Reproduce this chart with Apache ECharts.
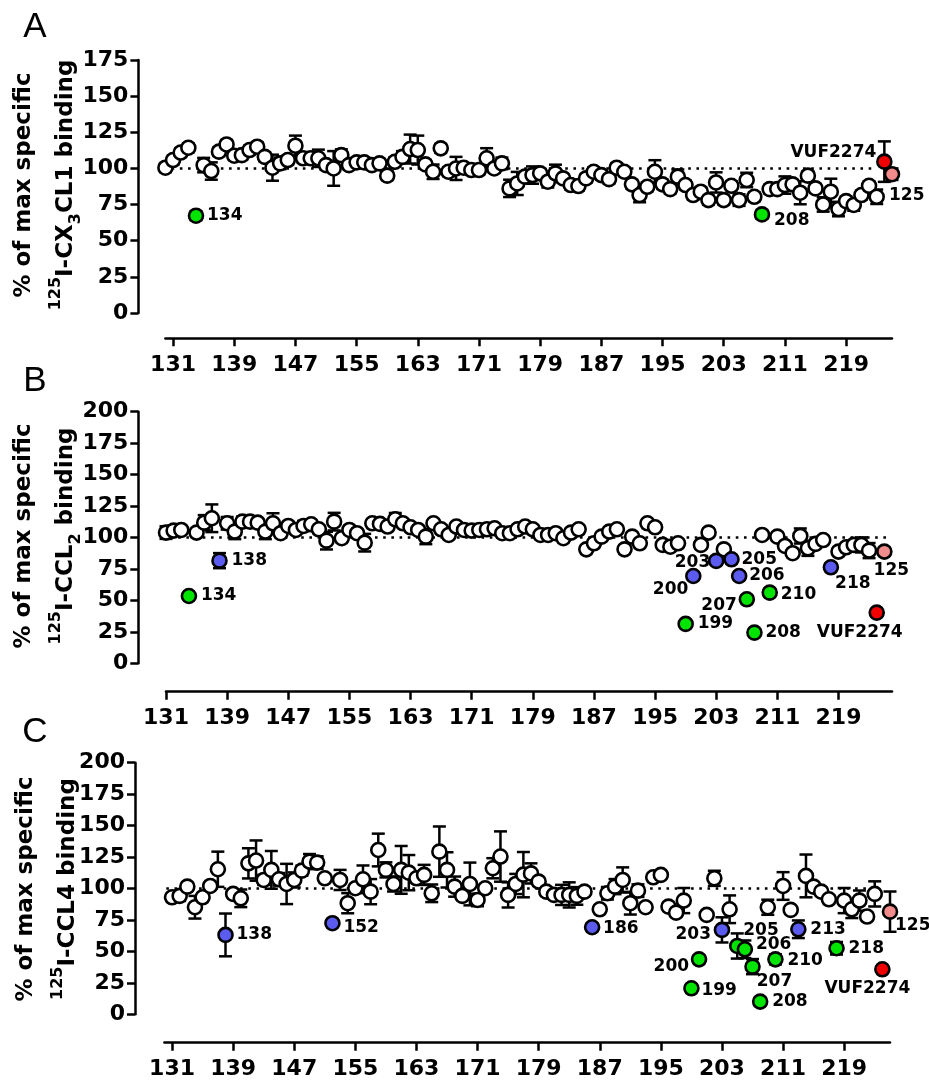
<!DOCTYPE html>
<html lang="en">
<head>
  <meta charset="UTF-8">
  <title>Alanine scan binding</title>
  <script src="https://cdn.jsdelivr.net/npm/echarts@6.0.0/dist/echarts.min.js"></script>
  <style>
    html, body { margin: 0; padding: 0; background: #fff; }
    #chart { width: 929px; height: 1080px; }
  </style>
</head>
<body>
  <div id="chart"></div>
  <script>
    // ---- data ----
    const xTickLabels = [131, 139, 147, 155, 163, 171, 179, 187, 195, 203, 211, 219]
    const yAxisMax = [175, 200, 200]
    const panelLetters = ['A', 'B', 'C']
    const titleLine1 = '% of max specific'
    const titleLine2 = [
      '{sup|125}{b|I-CX}{sub|3}{b|CL1 binding}',
      '{sup|125}{b|I-CCL}{sub|2}{b| binding}',
      '{sup|125}{b|I-CCL4 binding}'
    ]
    const ctrlNames = ['VUF2274', '125']
    const ctrlResidues = [224, 225]

    // A: 125I-CX3CL1
    const residuesA = [130, 131, 132, 133, 134, 135, 136, 137, 138, 139,
      140, 141, 142, 143, 144, 145, 146, 147, 148, 149,
      150, 151, 152, 153, 154, 155, 156, 157, 158, 159,
      160, 161, 162, 163, 164, 165, 166, 167, 168, 169,
      170, 171, 172, 173, 174, 175, 176, 177, 178, 179,
      180, 181, 182, 183, 184, 185, 186, 187, 188, 189,
      190, 191, 192, 193, 194, 195, 196, 197, 198, 199,
      200, 201, 202, 203, 204, 205, 206, 207, 208, 209,
      210, 211, 212, 213, 214, 215, 216, 217, 218, 219,
      220, 221, 222, 223]
    const valuesA = [100.5, 105.8, 111, 114.3, 67.3, 102.3, 98.2, 111.6, 116.6, 108.8,
      109.2, 112.7, 115, 108, 100.5, 103.5, 105.8, 115.7, 107, 107,
      107, 102.3, 100, 109.2, 102.3, 104.2, 104.2, 102.3, 103.5, 95,
      104.6, 108, 113.4, 112.7, 102.8, 97.7, 113.9, 97.7, 100, 100.5,
      98.9, 98.9, 107, 100, 103.5, 86.2, 89.6, 94.3, 95.4, 96.6,
      90.8, 96.6, 93.1, 88.5, 87.8, 93.1, 97.7, 95.4, 92.6, 100.5,
      97.7, 89, 81.6, 87.3, 97.7, 89, 85.7, 94.3, 88.5, 81.6,
      83.9, 78.1, 90.3, 78.1, 88, 78.1, 92, 80.4, 68.2, 85.7,
      85.7, 88.5, 89, 83.2, 95, 86.2, 75.1, 83.9, 71.9, 77.4,
      74.7, 81.6, 88, 80.4]
    const errorsA = [3, 3, 3, 3, 3, 5, 6, 3, 3, 3,
      3, 3, 3, 3, 9, 4, 3, 7, 3, 3,
      6, 3, 12, 4, 3, 3, 3, 3, 3, 3,
      3, 4, 10, 10, 3, 5, 3, 3, 8, 3,
      3, 3, 7, 3, 4, 6, 8, 3, 6, 3,
      4, 6, 3, 3, 3, 3, 3, 3, 3, 3,
      3, 3, 5, 3, 8, 3, 3, 5, 3, 3,
      3, 3, 7, 3, 3, 4, 5, 3, 3, 3,
      3, 6, 3, 8, 3, 3, 5, 9, 5, 3,
      4, 3, 3, 5]
    const greenA = [134, 208]
    const blueA = []
    const ctrlValuesA = [104.7, 96]
    const ctrlErrorsA = [14, 4]

    // B: 125I-CCL2
    const residuesB = [131, 132, 133, 134, 135, 136, 137, 138, 139,
      140, 141, 142, 143, 144, 145, 146, 147, 148, 149,
      150, 151, 152, 153, 154, 155, 156, 157, 158, 159,
      160, 161, 162, 163, 164, 165, 166, 167, 168, 169,
      170, 171, 172, 173, 174, 175, 176, 177, 178, 179,
      180, 181, 182, 183, 184, 185, 186, 187, 188, 189,
      190, 191, 192, 193, 194, 195, 196, 197, 198, 199,
      200, 201, 202, 203, 204, 205, 206, 207, 208, 209,
      210, 211, 212, 213, 214, 215, 216, 217, 218, 219,
      220, 221, 222, 223]
    const valuesB = [103.9, 105.5, 106, 53.5, 103.9, 111.8, 115.3, 81.6, 111.3,
      104.7, 112.6, 112.6, 111.8, 104.7, 111.3, 103.4, 109.2, 106, 109.2,
      110.5, 106.5, 97.5, 112.6, 99.4, 106, 103.4, 95.9, 111.3, 110.8,
      108.7, 114.5, 111.3, 108.1, 106, 100.7, 111.3, 106.5, 102, 108.7,
      106, 105.5, 106, 106.5, 107.3, 103.4, 103.4, 106.5, 108.7, 106.5,
      102, 102, 103.4, 99.4, 103.9, 106.5, 90.6, 95.4, 100.7, 104.7,
      106.5, 90.6, 100.7, 95.4, 111.3, 108.1, 94.1, 92.7, 95.4, 31.3,
      69.4, 94.1, 103.9, 81.4, 90.6, 82.7, 69.4, 50.9, 24.4, 102,
      56.2, 100.7, 93.3, 87.5, 101.2, 91.4, 94.9, 98, 76.3, 88.8,
      92.2, 94.1, 94.1, 89.6]
    const errorsB = [5, 4, 3, 2, 3, 6, 11, 6, 5,
      6, 4, 3, 3, 6, 8, 3, 3, 3, 4,
      3, 3, 7, 7, 3, 3, 3, 7, 3, 3,
      3, 5, 3, 3, 3, 6, 3, 3, 3, 3,
      3, 3, 3, 3, 3, 3, 3, 3, 3, 3,
      3, 3, 3, 3, 3, 3, 3, 3, 3, 3,
      3, 3, 3, 3, 3, 3, 3, 3, 3, 2,
      3, 3, 3, 3, 3, 3, 3, 3, 2, 3,
      3, 3, 3, 3, 6, 6, 3, 3, 3, 3,
      3, 3, 6, 6]
    const greenB = [134, 199, 207, 208, 210]
    const blueB = [138, 200, 203, 205, 206, 218]
    const ctrlValuesB = [40.3, 88.8]
    const ctrlErrorsB = [2, 3]

    // C: 125I-CCL4
    const residuesC = [131, 132, 133, 134, 135, 136, 137, 138, 139,
      140, 141, 142, 143, 144, 145, 146, 147, 148, 149,
      150, 151, 152, 153, 154, 155, 156, 157, 158, 159,
      160, 161, 162, 163, 164, 165, 166, 167, 168, 169,
      170, 171, 172, 173, 174, 175, 176, 177, 178, 179,
      180, 181, 182, 183, 184, 185, 186, 187, 188, 189,
      190, 191, 192, 193, 194, 195, 196, 197, 198, 199,
      200, 201, 202, 203, 204, 205, 206, 207, 208, 209,
      210, 211, 212, 213, 214, 215, 216, 217, 218, 219,
      220, 221, 222, 223]
    const valuesC = [93, 94.1, 101.5, 85.1, 93, 102, 115.3, 63.1, 95.7,
      92.2, 120, 122.2, 106.8, 114.8, 107.3, 103.6, 106.8, 114.2, 121.4,
      120.6, 108.1, 72.4, 106.8, 88.3, 100.2, 107.3, 97.5, 130.6, 114.8,
      103.6, 114.8, 112.6, 108.1, 110.8, 96.2, 129.3, 114.8, 101.5, 94.1,
      103.6, 90.9, 100.2, 116.1, 125.4, 94.9, 103.6, 111, 112, 105.5,
      97.5, 94.9, 94.9, 94.9, 94.1, 97.5, 69.2, 83.5, 96.2, 101.5,
      106.8, 88.3, 98.3, 85.1, 108.9, 110.8, 85.6, 80.8, 90.4, 20.7,
      43.7, 79, 108.1, 67.1, 83.5, 54.3, 51.7, 37.9, 10.1, 85.1,
      43.7, 102, 83, 67.6, 110, 101.5, 97.5, 91.4, 52.5, 90.4,
      83.5, 90.4, 77.7, 95.7]
    const errorsC = [3, 4, 3, 9, 3, 3, 14, 17, 3,
      7, 12, 16, 4, 15, 5, 16, 6, 4, 6,
      5, 3, 3, 8, 8, 3, 11, 10, 13, 6,
      6, 19, 14, 3, 8, 7, 20, 14, 8, 3,
      17, 5, 3, 8, 20, 10, 8, 18, 8, 3,
      3, 3, 8, 10, 7, 3, 3, 3, 5, 6,
      10, 9, 5, 3, 3, 3, 3, 3, 10, 3,
      3, 3, 6, 10, 11, 10, 7, 6, 3, 6,
      4, 11, 3, 7, 17, 3, 3, 3, 5, 10,
      7, 8, 3, 10]
    const greenC = [199, 200, 205, 206, 207, 208, 210, 218]
    const blueC = [138, 152, 186, 203, 213]
    const ctrlValuesC = [35.8, 81.6]
    const ctrlErrorsC = [2, 16]

    // ---- layout and styles ----
    const FONT = 'DejaVu Sans'
    const GREEN = '#00e400'
    const BLUE = '#5b5bef'
    const ctrlColors = ['#f00000', '#f28c8c']

    const layout = [
      { left: 165.4, top: 60, width: 726.6, height: 253, xMin: 130, xMax: 225, yOffset: 27, xOffset: 25.3,
        ref: [127.6, 222.5], letterY: 27.5, titleY: 185, line1X: 23.7, line2X: 66 },
      { left: 166, top: 411.7, width: 726, height: 251.6, xMin: 131, xMax: 226, yOffset: 27.7, xOffset: 28.4,
        ref: [128.3, 225.8], letterY: 381, titleY: 536, line1X: 23.7, line2X: 66 },
      { left: 164.4, top: 762.7, width: 725.6, height: 251.6, xMin: 130, xMax: 225, yOffset: 29.4, xOffset: 28.4,
        ref: [128.1, 223.5], letterY: 732.5, titleY: 889, line1X: 26, line2X: 68 }
    ]

    // label offset from point centre: [dx, dy, align]
    const labelPlacement = [
      { '134': [11, 0, 'left'], '208': [12, 6, 'left'], 'VUF2274': [-8, -9, 'right'], '125': [-3, 21, 'left'] },
      { '134': [12, 0, 'left'], '138': [12, 0, 'left'], '199': [12, 0, 'left'], '200': [-5, 14, 'right'],
        '203': [-6, 2, 'right'], '205': [10, 0, 'left'], '206': [10, 0, 'left'], '207': [-10, 6, 'right'],
        '208': [11, 0, 'left'], '210': [11, 2, 'left'], '218': [22, 16, 'center'],
        'VUF2274': [-17, 20, 'center'], '125': [7, 19, 'center'] },
      { '138': [11, 0, 'left'], '152': [11, 4, 'left'], '186': [11, 1, 'left'], '199': [10, 2, 'left'],
        '200': [-10, 7, 'right'], '203': [-11, 5, 'right'], '205': [6, -15, 'left'], '206': [11, -5, 'left'],
        '207': [22, 15, 'center'], '208': [12, 0, 'left'], '210': [12, 1, 'left'], '213': [12, 0, 'left'],
        '218': [12, 0, 'left'], 'VUF2274': [-15, 19, 'center'], '125': [5, 14, 'left'] }
    ]

    const panels = [
      { residues: residuesA, values: valuesA, errors: errorsA, green: greenA, blue: blueA, ctrl: ctrlValuesA, ctrlErr: ctrlErrorsA },
      { residues: residuesB, values: valuesB, errors: errorsB, green: greenB, blue: blueB, ctrl: ctrlValuesB, ctrlErr: ctrlErrorsB },
      { residues: residuesC, values: valuesC, errors: errorsC, green: greenC, blue: blueC, ctrl: ctrlValuesC, ctrlErr: ctrlErrorsC }
    ]

    function renderErrorBar(params, api) {
      const x = api.value(0)
      const y = api.value(1)
      const e = api.value(2)
      const hi = api.coord([x, y + e])
      const lo = api.coord([x, y - e])
      const w = 6.5
      const style = { stroke: '#000', lineWidth: 2.5 }
      return {
        type: 'group',
        children: [
          { type: 'line', shape: { x1: hi[0], y1: hi[1], x2: lo[0], y2: lo[1] }, style },
          { type: 'line', shape: { x1: hi[0] - w, y1: hi[1], x2: hi[0] + w, y2: hi[1] }, style },
          { type: 'line', shape: { x1: lo[0] - w, y1: lo[1], x2: lo[0] + w, y2: lo[1] }, style }
        ]
      }
    }

    function labelledPoint(value, name, color, spec) {
      return {
        value: value,
        itemStyle: { color: color },
        label: {
          show: true,
          formatter: name,
          position: 'inside',
          offset: [spec[0], spec[1]],
          align: spec[2],
          verticalAlign: 'middle',
          color: '#000',
          textBorderWidth: 0,
          fontFamily: FONT,
          fontWeight: 'bold',
          fontSize: 17
        }
      }
    }

    const grid = []
    const xAxis = []
    const yAxis = []
    const series = []
    const graphic = []

    layout.forEach((L, i) => {
      grid.push({ left: L.left, top: L.top, width: L.width, height: L.height, containLabel: false, outerBoundsMode: 'none' })
      xAxis.push({
        type: 'value', gridIndex: i, min: L.xMin, max: L.xMax, offset: L.xOffset,
        axisLine: { show: true, onZero: false, lineStyle: { color: '#000', width: 2.5 } },
        axisTick: { show: true, length: 8, customValues: xTickLabels, lineStyle: { color: '#000', width: 2.5 } },
        axisLabel: { customValues: xTickLabels, color: '#000', fontFamily: FONT, fontWeight: 'bold', fontSize: 22, margin: 16 },
        splitLine: { show: false }
      })
      yAxis.push({
        type: 'value', gridIndex: i, min: 0, max: yAxisMax[i], interval: 25, offset: L.yOffset,
        axisLine: { show: true, onZero: false, lineStyle: { color: '#000', width: 2.5 } },
        axisTick: { show: true, length: 8, lineStyle: { color: '#000', width: 2.5 } },
        axisLabel: { color: '#000', fontFamily: FONT, fontWeight: 'bold', fontSize: 22, margin: 10 },
        splitLine: { show: false }
      })

      graphic.push({
        type: 'text', x: 35, y: L.letterY,
        style: { text: panelLetters[i], fontFamily: 'Liberation Sans', fontSize: 35, fill: '#000', align: 'center', verticalAlign: 'middle' }
      })
      graphic.push({
        type: 'text', x: L.line1X, y: L.titleY, rotation: Math.PI / 2,
        style: { text: titleLine1, fontFamily: FONT, fontWeight: 'bold', fontSize: 23, fill: '#000', align: 'center', verticalAlign: 'middle' }
      })
      graphic.push({
        type: 'text', x: L.line2X, y: L.titleY, rotation: Math.PI / 2,
        style: {
          text: titleLine2[i], align: 'center', verticalAlign: 'middle',
          rich: {
            b: { fontFamily: FONT, fontWeight: 'bold', fontSize: 23, lineHeight: 36, fill: '#000' },
            sup: { fontFamily: FONT, fontWeight: 'bold', fontSize: 16, lineHeight: 12, verticalAlign: 'top', fill: '#000' },
            sub: { fontFamily: FONT, fontWeight: 'bold', fontSize: 16, lineHeight: 20, verticalAlign: 'bottom', fill: '#000' }
          }
        }
      })
    })

    panels.forEach((p, i) => {
      const L = layout[i]
      const spec = labelPlacement[i]
      // dotted 100% line
      series.push({
        type: 'line', xAxisIndex: i, yAxisIndex: i, data: [[L.ref[0], 100], [L.ref[1], 100]],
        symbol: 'none', clip: false, silent: true, z: 1,
        lineStyle: { color: '#000', width: 2.6, type: [2.6, 5.6] }
      })
      const errData = p.residues.map((r, k) => [r, p.values[k], p.errors[k]])
        .concat(ctrlResidues.map((r, k) => [r, p.ctrl[k], p.ctrlErr[k]]))
      series.push({
        type: 'custom', xAxisIndex: i, yAxisIndex: i, data: errData, renderItem: renderErrorBar,
        encode: { x: 0, y: 1 }, silent: true, z: 2
      })
      const white = []
      const coloured = []
      p.residues.forEach((r, k) => {
        let col = null
        if (p.green.includes(r)) col = GREEN
        else if (p.blue.includes(r)) col = BLUE
        if (col) coloured.push(labelledPoint([r, p.values[k]], String(r), col, spec[String(r)]))
        else white.push([r, p.values[k]])
      })
      ctrlResidues.forEach((r, k) => {
        coloured.push(labelledPoint([r, p.ctrl[k]], ctrlNames[k], ctrlColors[k], spec[ctrlNames[k]]))
      })
      series.push({
        type: 'scatter', xAxisIndex: i, yAxisIndex: i, data: white, symbolSize: 14, z: 3, silent: true,
        itemStyle: { color: '#fff', borderColor: '#000', borderWidth: 2.6, opacity: 1 }
      })
      series.push({
        type: 'scatter', xAxisIndex: i, yAxisIndex: i, data: coloured, symbolSize: 14, z: 4, silent: true,
        itemStyle: { borderColor: '#000', borderWidth: 2.6, opacity: 1 }
      })
    })

    const myChart = echarts.init(document.getElementById('chart'))
    myChart.setOption({
      animation: false,
      backgroundColor: '#fff',
      grid, xAxis, yAxis, series, graphic
    })
  </script>
</body>
</html>
